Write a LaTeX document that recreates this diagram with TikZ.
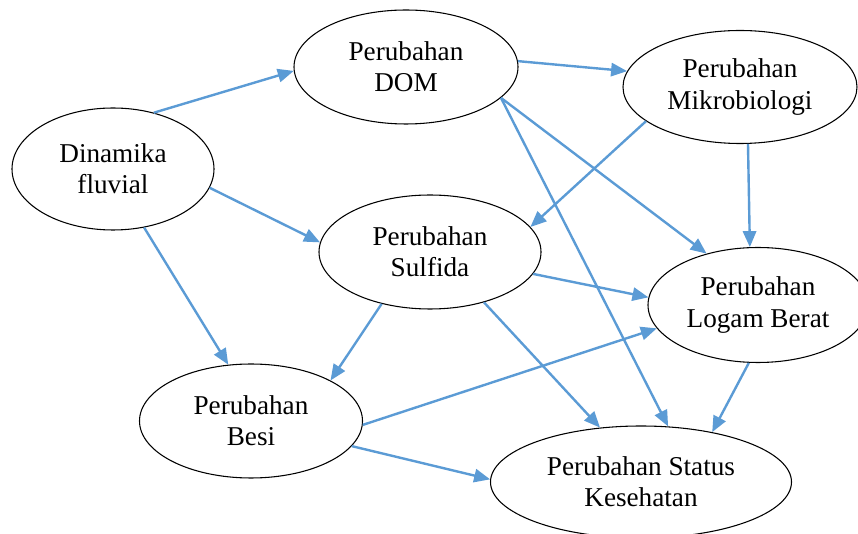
\documentclass[tikz,border=0pt]{standalone}
\usepackage{fontspec}
\setmainfont{Liberation Serif}
\usetikzlibrary{shapes.geometric,arrows.meta}
\definecolor{modra}{RGB}{91,155,213}

\begin{document}
\begin{tikzpicture}[x=0.75pt,y=-0.75pt,
        uzel/.style={draw, ellipse, line width=0.8pt, inner sep=0pt, align=center,
            font=\fontsize{20.4}{23.3}\selectfont},
        sipka/.style={draw=modra, line width=1.8pt, -{Triangle[length=12pt,width=10pt]}}]
        \useasboundingbox (0,0) rectangle (858,534);

        % uzly
        \node[uzel, minimum width=151.5pt, minimum height=91.5pt] (dinamika) at (113,169) {Dinamika\\fluvial};
        \node[uzel, minimum width=168pt, minimum height=85.5pt] (dom) at (406,67) {Perubahan\\DOM};
        \node[uzel, minimum width=175.5pt, minimum height=84.75pt] (mikro) at (740,87) {Perubahan\\Mikrobiologi};
        \node[uzel, minimum width=166.5pt, minimum height=85.5pt] (sulfida) at (430,252) {Perubahan\\Sulfida};
        \node[uzel, minimum width=165pt, minimum height=86.25pt] (logam) at (758,305) {Perubahan\\Logam Berat};
        \node[uzel, minimum width=167.25pt, minimum height=85.5pt] (besi) at (251,421) {Perubahan\\Besi};
        \node[uzel, minimum width=225.75pt, minimum height=84pt] (status) at (641,482) {Perubahan Status\\Kesehatan};

        % sipky
        \draw[sipka] (dinamika.54) -- (dom.182);
        \draw[sipka] (dinamika.-11.5) -- (sulfida.175);
        \draw[sipka] (dinamika.-62) -- (besi.112);
        \draw[sipka] (dom.3) -- (mikro.172);
        \draw[sipka] (dom.-18) -- (logam.135);
        \draw[sipka] (dom.-18) -- (status.64);
        \draw[sipka] (mikro.200) -- (sulfida.14);
        \draw[sipka] (mikro.-82.5) -- (logam.98);
        \draw[sipka] (sulfida.-133) -- (besi.27);
        \draw[sipka] (sulfida.-12.4) -- (logam.176);
        \draw[sipka] (sulfida.-43) -- (status.127.5);
        \draw[sipka] (besi.-2) -- (logam.193);
        \draw[sipka] (besi.-14.3) -- (status.179.6);
        \draw[sipka] (logam.-99) -- (status.35);

    \end{tikzpicture}
\end{document}
